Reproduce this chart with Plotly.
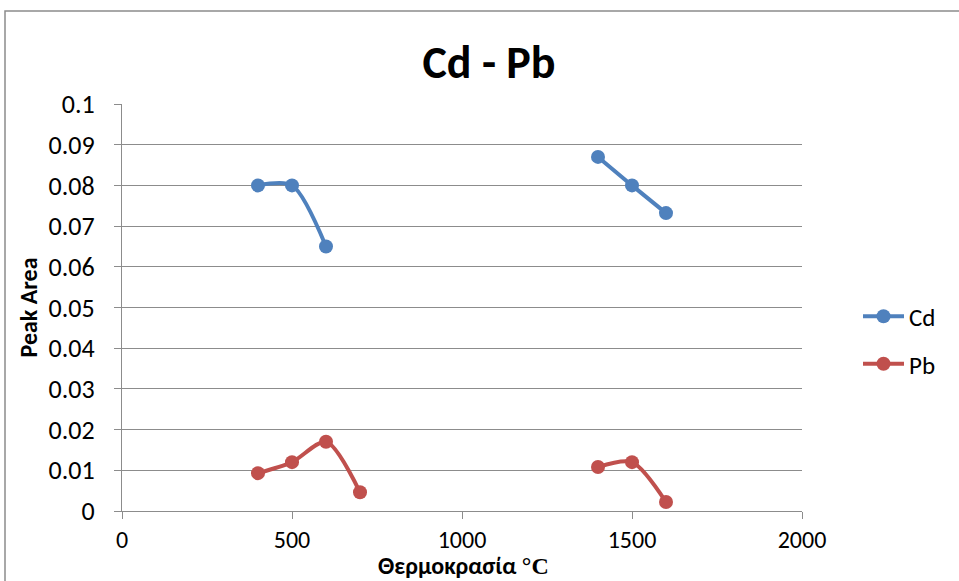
import plotly.graph_objects as go

temps = [400, 500, 600, 700, None, 1400, 1500, 1600]
cd_vals = [0.080, 0.080, 0.065, None, None, 0.087, 0.080, 0.0732]
pb_vals = [0.0093, 0.012, 0.017, 0.0046, None, 0.0108, 0.012, 0.0022]
y_ticks = [0, 0.01, 0.02, 0.03, 0.04, 0.05, 0.06, 0.07, 0.08, 0.09, 0.1]
y_tick_text = ["0", "0.01", "0.02", "0.03", "0.04", "0.05", "0.06", "0.07", "0.08", "0.09", "0.1"]
x_ticks = [0, 500, 1000, 1500, 2000]
x_title = "<b>Θερμοκρασία <span style='font-family:Liberation Serif'>°C</span></b>"

FONT = "Carlito, Calibri, Lato, sans-serif"
W, H = 959, 581
L, R, T, B = 122, 802, 104, 511

fig = go.Figure()
fig.add_trace(go.Scatter(x=temps, y=cd_vals, name="Cd", mode="lines+markers", legendgroup="cd",
                         line=dict(color="#4F81BD", width=4, shape="spline", smoothing=0.8),
                         marker=dict(size=14, color="#4F81BD"), connectgaps=False))
fig.add_trace(go.Scatter(x=temps, y=pb_vals, name="Pb", mode="lines+markers", legendgroup="pb",
                         line=dict(color="#C0504D", width=4, shape="spline", smoothing=0.8),
                         marker=dict(size=14, color="#C0504D"), connectgaps=False))

pw, ph = R - L, B - T
fig.add_shape(type="rect", xref="paper", yref="paper",
              x0=(5 - L) / pw, x1=(W + 20 - L) / pw,
              y0=(B - (H + 20)) / ph, y1=(B - 11) / ph,
              line=dict(color="#8c8c8c", width=1.5), fillcolor="rgba(0,0,0,0)", layer="below")

fig.add_annotation(text=x_title, xref="paper", yref="paper", x=(463 - L) / pw, y=(B - 565) / ph,
                   xanchor="center", yanchor="middle", showarrow=False, borderpad=0,
                   font=dict(size=24, family=FONT, color="black"))

fig.update_layout(
    width=W, height=H,
    margin=dict(l=L, r=W - R, t=T, b=H - B, autoexpand=False),
    paper_bgcolor="white", plot_bgcolor="white",
    font=dict(family=FONT, size=25, color="black"),
    title=dict(text="<b>Cd - Pb</b>", x=489 / W, xanchor="center", y=1 - 62 / H, yanchor="middle",
               font=dict(size=46, family=FONT)),
    xaxis=dict(range=[0, 2000], tickvals=x_ticks, ticks="outside", ticklen=7, tickcolor="#8c8c8c",
               showgrid=False, showline=True, linecolor="#8c8c8c", linewidth=1.2, zeroline=False,
               automargin=False, tickfont=dict(size=24), ticklabelstandoff=0),
    yaxis=dict(range=[0, 0.1], tickvals=y_ticks, ticktext=y_tick_text, ticks="outside", ticklen=7,
               tickcolor="#8c8c8c", showgrid=True, gridcolor="#8c8c8c", gridwidth=1,
               showline=True, linecolor="#8c8c8c", linewidth=1.2, zeroline=False,
               automargin=False, tickfont=dict(size=26), ticklabelstandoff=14,
               title=dict(text="<b>Peak Area</b>", font=dict(size=24), standoff=4)),
    legend=dict(x=(858 - L) / pw, xanchor="left", y=(B - 340) / ph, yanchor="middle",
                font=dict(size=25), tracegroupgap=12, itemwidth=41, bgcolor="rgba(0,0,0,0)"),
    showlegend=True,
)

fig.write_html("out.html")
